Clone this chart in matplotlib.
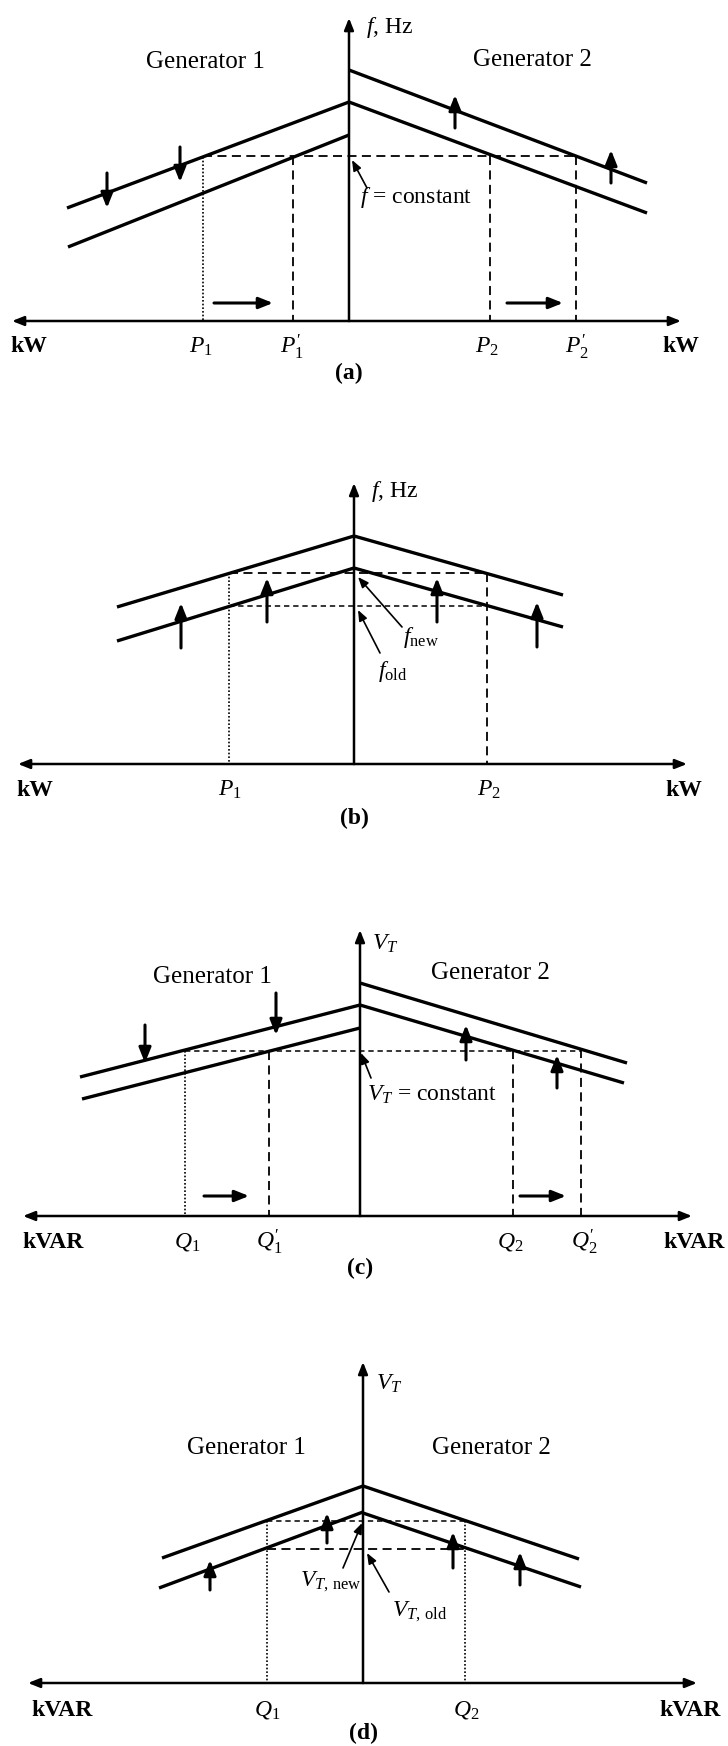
import matplotlib
matplotlib.use("Agg")
import matplotlib.pyplot as plt

plt.rcParams["font.family"] = ["Liberation Serif", "DejaVu Serif"]
plt.rcParams["mathtext.fontset"] = "custom"
plt.rcParams["mathtext.rm"] = "Liberation Serif"
plt.rcParams["mathtext.it"] = "Liberation Serif:italic"
plt.rcParams["mathtext.bf"] = "Liberation Serif:bold"

# ---- panel (a): real power sharing, f held constant ----
A_AXES = dict(x=349, base=321, top=18, left=12, right=681)
A_DROOPS = [[(67, 208), (349, 102)], [(68, 247), (349, 135)],
            [(349, 70), (647, 183)], [(349, 102), (647, 213)]]
A_GUIDES = [((203, 156), (576, 156), "dash"),
            ((203, 157), (203, 321), "dot"), ((293, 156), (293, 321), "dash"),
            ((490, 156), (490, 321), "dash"), ((576, 156), (576, 321), "dash")]
A_SHIFTS = [(214, 273, 303), (507, 563, 303)]
A_MARKS = [(107, 173, 208), (180, 147, 182), (455, 128, 95), (611, 183, 150)]
A_LABELS = [(205, 62, "Generator 1"), (532, 60, "Generator 2"),
            (29, 347, "kW"), (201, 347, "$P_1$"), (292, 347, "$P_1^{\\prime}$"),
            (487, 347, "$P_2$"), (577, 347, "$P_2^{\\prime}$"), (681, 347, "kW")]
A_NOTES = [(366, 27, "$f$, Hz", None), (360, 197, "$f$ = constant", ((367, 188), (352, 160)))]
A_TAG = (349, 373, "(a)")

# ---- panel (b): raising both set points, f_old -> f_new ----
B_AXES = dict(x=354, base=764, top=483, left=18, right=687)
B_DROOPS = [[(117, 607), (354, 536)], [(117, 641), (354, 568)],
            [(354, 536), (563, 595)], [(354, 568), (563, 627)]]
B_GUIDES = [((229, 573), (487, 573), "dash"), ((229, 606), (487, 606), "fine"),
            ((229, 573), (229, 764), "dot"), ((487, 573), (487, 764), "dash")]
B_SHIFTS = []
B_MARKS = [(181, 648, 603), (267, 622, 578), (437, 622, 578), (537, 647, 602)]
B_LABELS = [(35, 790, "kW"), (230, 790, "$P_1$"), (489, 790, "$P_2$"), (684, 790, "kW")]
B_NOTES = [(371, 492, "$f$, Hz", None),
           (403, 637, "$f_{\\mathrm{new}}$", ((402, 627), (358, 577))),
           (378, 672, "$f_{\\mathrm{old}}$", ((380, 653), (358, 610)))]
B_TAG = (354, 818, "(b)")

# ---- panel (c): reactive power sharing, V_T held constant ----
C_AXES = dict(x=360, base=1216, top=930, left=23, right=692)
C_DROOPS = [[(80, 1077), (360, 1005)], [(82, 1099), (360, 1028)],
            [(360, 983), (627, 1063)], [(360, 1005), (624, 1083)]]
C_GUIDES = [((185, 1051), (581, 1051), "fine"),
            ((185, 1051), (185, 1216), "dot"), ((269, 1051), (269, 1216), "dash"),
            ((513, 1050), (513, 1216), "dash"), ((581, 1049), (581, 1216), "dash")]
C_SHIFTS = [(204, 249, 1196), (520, 566, 1196)]
C_MARKS = [(145, 1025, 1063), (276, 993, 1035), (466, 1060, 1025), (557, 1088, 1055)]
C_LABELS = [(212, 977, "Generator 1"), (490, 973, "Generator 2"),
            (53, 1242, "kVAR"), (187, 1242, "$Q_1$"), (269, 1242, "$Q_1^{\\prime}$"),
            (510, 1242, "$Q_2$"), (584, 1242, "$Q_2^{\\prime}$"), (694, 1242, "kVAR")]
C_NOTES = [(372, 944, "$V_T$", None),
           (367, 1095, "$V_T$ = constant", ((371, 1078), (361, 1053)))]
C_TAG = (360, 1268, "(c)")

# ---- panel (d): raising both voltage set points ----
D_AXES = dict(x=363, base=1683, top=1362, left=28, right=697)
D_DROOPS = [[(162, 1558), (363, 1486)], [(159, 1588), (363, 1512)],
            [(363, 1486), (579, 1559)], [(363, 1513), (581, 1587)]]
D_GUIDES = [((267, 1521), (465, 1521), "fine"), ((267, 1549), (465, 1549), "dash"),
            ((267, 1521), (267, 1683), "dot"), ((465, 1521), (465, 1683), "dot")]
D_SHIFTS = []
D_MARKS = [(210, 1590, 1560), (327, 1543, 1513), (453, 1568, 1532), (520, 1585, 1552)]
D_LABELS = [(246, 1448, "Generator 1"), (491, 1448, "Generator 2"),
            (62, 1710, "kVAR"), (267, 1710, "$Q_1$"), (466, 1710, "$Q_2$"), (690, 1710, "kVAR")]
D_NOTES = [(376, 1384, "$V_T$", None),
           (300, 1582, "$V_{T,\\,\\mathrm{new}}$", ((343, 1568), (362, 1523))),
           (392, 1612, "$V_{T,\\,\\mathrm{old}}$", ((389, 1592), (367, 1553)))]
D_TAG = (363, 1733, "(d)")

STYLES = {"dash": dict(lw=1.3, ls=(0, (5, 3))),
          "fine": dict(lw=1.1, ls=(0, (3.5, 2.5))),
          "dot": dict(lw=1.2, ls=(0, (1, 1.2)))}
FS = 17


def arrow(ax, start, end, lw=1.8, scale=12, head="-|>,head_length=0.7,head_width=0.28"):
    ax.annotate("", xy=end, xytext=start, xycoords="data",
                arrowprops=dict(arrowstyle=head, lw=lw, color="black",
                                mutation_scale=scale, shrinkA=0, shrinkB=0))


def draw_panel(ax, axes, droops, guides, shifts, marks, labels, notes, tag):
    # axes with arrow heads
    arrow(ax, (axes["x"], axes["base"]), (axes["x"], axes["top"]), lw=1.8, scale=10)
    arrow(ax, (axes["x"], axes["base"]), (axes["right"], axes["base"]), lw=1.8, scale=10)
    arrow(ax, (axes["x"], axes["base"]), (axes["left"], axes["base"]), lw=1.8, scale=10)
    # droop curves
    for (x0, y0), (x1, y1) in droops:
        ax.plot([x0, x1], [y0, y1], color="black", lw=2.4, solid_capstyle="butt")
    # guide lines
    for (x0, y0), (x1, y1), kind in guides:
        ax.plot([x0, x1], [y0, y1], color="black", **STYLES[kind])
    # shift arrows along the power axis
    for x0, x1, y in shifts:
        arrow(ax, (x0, y), (x1, y), lw=2.2, scale=12)
    # set-point arrows on the curves
    for x, y0, y1 in marks:
        arrow(ax, (x, y0), (x, y1), lw=2.2, scale=13)
    for x, y, s in labels:
        weight = "bold" if s.startswith("k") else "normal"
        size = FS + 1 if s.startswith("Gen") else FS
        ax.text(x, y, s, fontsize=size, ha="center", va="center", fontweight=weight)
    for x, y, s, lead in notes:
        ax.text(x, y, s, fontsize=FS, ha="left", va="center")
        if lead is not None:
            arrow(ax, lead[0], lead[1], lw=1.2, scale=9)
    ax.text(tag[0], tag[1], tag[2], fontsize=FS, ha="center", va="center", fontweight="bold")


fig = plt.figure(figsize=(7.28, 17.46), dpi=100)
ax = fig.add_axes([0, 0, 1, 1])
ax.set_xlim(0, 728)
ax.set_ylim(1746, 0)
ax.axis("off")

draw_panel(ax, A_AXES, A_DROOPS, A_GUIDES, A_SHIFTS, A_MARKS, A_LABELS, A_NOTES, A_TAG)
draw_panel(ax, B_AXES, B_DROOPS, B_GUIDES, B_SHIFTS, B_MARKS, B_LABELS, B_NOTES, B_TAG)
draw_panel(ax, C_AXES, C_DROOPS, C_GUIDES, C_SHIFTS, C_MARKS, C_LABELS, C_NOTES, C_TAG)
draw_panel(ax, D_AXES, D_DROOPS, D_GUIDES, D_SHIFTS, D_MARKS, D_LABELS, D_NOTES, D_TAG)

fig.savefig("out.png", dpi=100, facecolor="white")
